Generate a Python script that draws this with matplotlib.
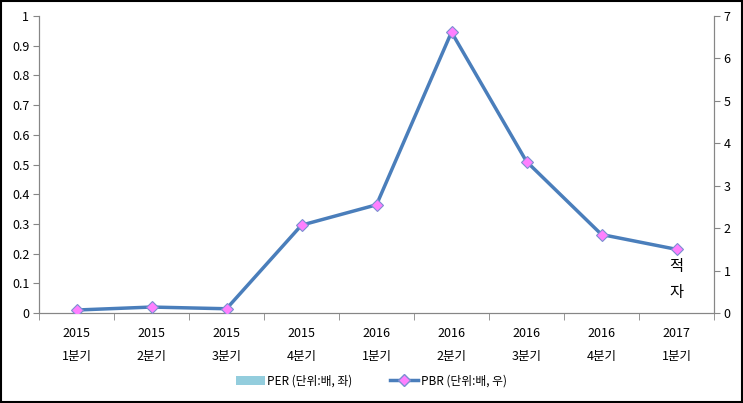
import numpy as np
import matplotlib.pyplot as plt
from matplotlib.patches import Patch
from matplotlib.lines import Line2D

plt.rcParams['font.family'] = ['Noto Sans CJK KR', 'DejaVu Sans']

# ── data ──────────────────────────────────────────────────────────────
years = ["2015", "2015", "2015", "2015", "2016", "2016", "2016", "2016", "2017"]
quarters = ["1분기", "2분기", "3분기", "4분기", "1분기", "2분기", "3분기", "4분기", "1분기"]
per_values = [0, 0, 0, 0, 0, 0, 0, 0, 0]          # 적자 (no bars shown)
pbr_values = [0.07, 0.14, 0.10, 2.07, 2.55, 6.62, 3.57, 1.85, 1.50]

labels = [f"{y}\n{q}" for y, q in zip(years, quarters)]
x = np.arange(len(labels))

# ── figure ────────────────────────────────────────────────────────────
fig = plt.figure(figsize=(7.43, 4.03), dpi=100)
fig.patch.set_facecolor("white")
ax = fig.add_axes([39/743, 90/403, 675/743, 297/403])
ax2 = ax.twinx()

grey = "#868686"
ax.bar(x, per_values, width=0.6, color="#93CDDD")
ax2.plot(x, pbr_values, color="#4A7EBB", linewidth=2.5, marker="D",
         markersize=6, markerfacecolor="#FF80FF", markeredgecolor="#7B8FD0",
         markeredgewidth=0.8, zorder=3)

ax.set_xlim(-0.5, len(x) - 0.5)
ax.set_ylim(0, 1)
ax2.set_ylim(0, 7)
ax.set_yticks(np.arange(0, 1.01, 0.1))
ax.set_yticklabels(["0", "0.1", "0.2", "0.3", "0.4", "0.5", "0.6", "0.7", "0.8", "0.9", "1"])
ax2.set_yticks(range(0, 8))

ax.set_xticks(x)
ax.set_xticklabels(labels, linespacing=2.0)
ax.set_xticks(np.arange(-0.5, len(x)), minor=True)
ax.tick_params(axis="x", which="major", length=0, pad=10, labelsize=9)
ax.tick_params(axis="x", which="minor", length=5, color=grey, direction="out")
ax.tick_params(axis="y", length=4, color=grey, labelsize=9, pad=3)
ax2.tick_params(axis="y", length=4, color=grey, labelsize=9, pad=3)

for a in (ax, ax2):
    a.spines["top"].set_visible(False)
    for s in ("left", "right", "bottom"):
        a.spines[s].set_color(grey)
    a.set_facecolor("none")

ax.text(x[-1], 0.155, "적", ha="center", va="center", fontsize=11)
ax.text(x[-1], 0.07, "자", ha="center", va="center", fontsize=11)

handles = [Patch(facecolor="#93CDDD", edgecolor="none"),
           Line2D([], [], color="#4A7EBB", linewidth=2.5, marker="D",
                  markersize=6, markerfacecolor="#FF80FF", markeredgecolor="#7B8FD0")]
fig.legend(handles, ["PER (단위:배, 좌)", "PBR (단위:배, 우)"],
           loc="center", bbox_to_anchor=(0.5, 1 - 381/403), ncol=2,
           frameon=False, fontsize=8.5, handlelength=2.4, columnspacing=3.2,
           handletextpad=0.2)

# outer border
fig.add_artist(plt.Rectangle((0.002, 0.002), 0.996, 0.995, transform=fig.transFigure,
                             fill=False, edgecolor="black", linewidth=1.5))

fig.savefig("out.png", dpi=100, facecolor=fig.get_facecolor())
